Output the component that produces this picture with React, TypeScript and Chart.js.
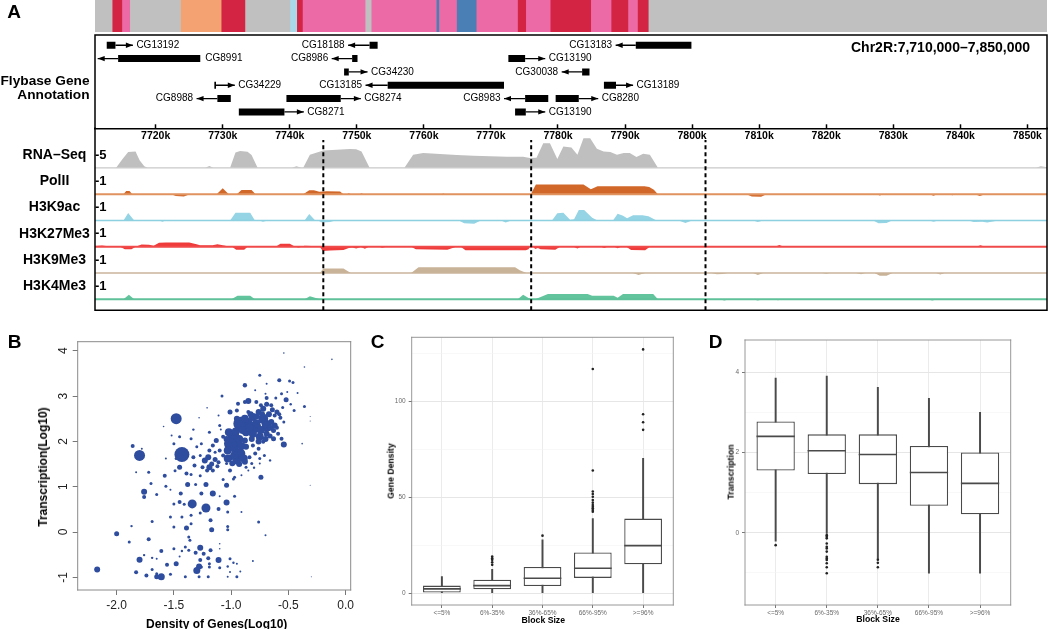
import React, { useEffect, useRef } from 'react';
import { Chart, registerables } from 'chart.js';

Chart.register(...registerables);
const FONT = '"Liberation Sans", Arial, Helvetica, sans-serif';
Chart.defaults.font.family = FONT;
Chart.defaults.color = '#000';

// ================= Panel A data =================
const regionMin = 7710.95; // kb
const regionMax = 7852.93; // kb
const regionTitle = 'Chr2R:7,710,000\u20137,850,000';
const genomeTicks = [7720, 7730, 7740, 7750, 7760, 7770, 7780, 7790, 7800, 7810, 7820, 7830, 7840, 7850];

// chromatin-state band (kb)
const bandStarts = [7710.95, 7713.6, 7715.06, 7716.23, 7723.8, 7729.86, 7733.41, 7740.12, 7741.13, 7741.98, 7751.33, 7752.24, 7761.94, 7762.34, 7764.97, 7767.9, 7774.06, 7775.29, 7778.93, 7784.98, 7788.01, 7790.53, 7791.95, 7793.56];
const bandEnds = [7713.6, 7715.06, 7716.23, 7723.8, 7729.86, 7733.41, 7740.12, 7741.13, 7741.98, 7751.33, 7752.24, 7761.94, 7762.34, 7764.97, 7767.9, 7774.06, 7775.29, 7778.93, 7784.98, 7788.01, 7790.53, 7791.95, 7793.56, 7852.93];
const GRAY = '#c0c0c0', RED = '#d42443', PINK = '#ec6aa6', SALMON = '#f5a272', LBLUE = '#a9d9e8', SBLUE = '#4a7fb6';
const bandColors = [GRAY, RED, PINK, GRAY, SALMON, RED, GRAY, LBLUE, RED, PINK, GRAY, PINK, SBLUE, PINK, SBLUE, PINK, RED, PINK, RED, PINK, RED, PINK, RED, GRAY];

// gene models (kb)
const geneNames = ['CG13192', 'CG18188', 'CG13183', 'CG8991', 'CG8986', 'CG13190', 'CG34230', 'CG30038', 'CG34229', 'CG13185', 'CG13189', 'CG8988', 'CG8274', 'CG8983', 'CG8280', 'CG8271', 'CG13190'];
const geneRows = [1, 1, 1, 2, 2, 2, 3, 3, 4, 4, 4, 5, 5, 5, 5, 6, 6];
const geneStarts = [7712.7, 7751.9, 7791.6, 7714.4, 7749.3, 7772.6, 7748.1, 7783.6, 7728.75, 7754.6, 7786.85, 7729.2, 7739.5, 7775.1, 7779.65, 7732.4, 7773.6];
const geneEnds = [7714.0, 7753.1, 7799.9, 7726.65, 7750.1, 7775.1, 7748.8, 7784.7, 7729.0, 7771.95, 7788.65, 7731.2, 7747.6, 7778.55, 7783.1, 7739.2, 7775.2];
const geneTips = [7716.6, 7748.7, 7788.6, 7711.35, 7746.25, 7778.1, 7751.6, 7780.55, 7731.8, 7751.3, 7791.2, 7726.1, 7750.6, 7771.95, 7786.0, 7742.1, 7778.1];

// signal tracks: [position kb, signal]
const trackNames = ['RNA\u2013Seq', 'PolII', 'H3K9ac', 'H3K27Me3', 'H3K9Me3', 'H3K4Me3'];
const trackTickValues = [5, 1, 1, 1, 1, 1];
const trackFillColors = ['#bfbfbf', '#d2672a', '#94d4e4', '#f03b3b', '#c9b398', '#62c49c'];
const trackLineColors = ['#c9c9c9', '#e0925f', '#8dd0e0', '#f04a4a', '#c8b39a', '#5fc199'];
const trackLineWidths = [1.2, 2, 1.5, 2, 1.6, 2];

const rnaSignal = [[7710.95, 0], [7714.1, 0], [7715.0, 3.2], [7715.9, 6.2], [7717.0, 6.4], [7717.6, 3.0], [7718.3, 0.6], [7718.8, 0], [7727.4, 0], [7728.0, 0.7], [7728.6, 0], [7731.1, 0], [7731.9, 6.0], [7732.6, 6.5], [7733.7, 6.3], [7734.3, 5.0], [7735.2, 0], [7740.3, 0], [7741.0, 0.6], [7741.7, 0], [7742.0, 0], [7743.0, 5.1], [7745.0, 6.7], [7749.0, 7.3], [7749.9, 7.2], [7750.7, 6.4], [7751.9, 0], [7757.1, 0], [7758.4, 5.1], [7759.9, 5.8], [7762.4, 5.4], [7764.9, 5.0], [7767.4, 4.7], [7769.9, 4.5], [7772.4, 4.3], [7774.8, 4.3], [7775.8, 3.85], [7776.8, 3.9], [7777.8, 9.6], [7778.8, 9.6], [7779.9, 3.4], [7780.8, 8.3], [7782.0, 7.9], [7782.9, 5.1], [7783.8, 11.5], [7784.8, 11.5], [7785.8, 7.4], [7786.8, 6.4], [7787.8, 6.2], [7788.8, 5.1], [7789.8, 5.8], [7790.7, 5.8], [7791.7, 4.2], [7792.7, 5.5], [7793.7, 5.1], [7794.9, 0], [7851.3, 0], [7852.0, 0.6], [7852.93, 0.2]];
const pol2Signal = [[7710.95, -0.06], [7711.8, 0], [7715.2, 0], [7715.6, 0.25], [7716.1, 0.25], [7716.5, 0], [7722.3, 0], [7723.0, -0.15], [7724.2, -0.18], [7725.1, 0], [7729.1, 0], [7730.0, 0.46], [7730.9, 0], [7732.1, 0], [7732.8, 0.33], [7734.3, 0.33], [7734.9, 0], [7742.0, 0], [7742.9, 0.3], [7743.6, 0.3], [7744.4, 0.18], [7745.5, 0.22], [7747.5, 0.2], [7748.0, 0], [7748.5, 0], [7748.8, 0.08], [7749.1, 0], [7750.4, 0], [7750.7, 0.08], [7751.0, 0], [7762.6, 0], [7762.9, 0.06], [7763.2, 0], [7775.95, 0], [7776.7, 0.75], [7783.8, 0.75], [7784.9, 0.38], [7785.9, 0.62], [7792.9, 0.62], [7793.6, 0.55], [7794.3, 0.35], [7794.9, 0], [7808.1, 0], [7808.9, -0.18], [7810.3, -0.2], [7811.1, 0], [7827.5, 0], [7828.0, -0.1], [7828.5, 0], [7835.4, 0], [7836.0, -0.12], [7836.6, 0], [7838.3, 0], [7838.8, -0.08], [7839.4, 0], [7842.2, 0], [7842.9, -0.15], [7843.7, 0], [7852.93, 0]];
const h3k9acSignal = [[7710.95, 0], [7715.2, 0], [7715.9, 0.57], [7716.8, 0], [7720.5, 0], [7721.0, -0.1], [7721.5, 0], [7731.1, 0], [7731.9, 0.6], [7734.1, 0.6], [7734.8, 0], [7735.4, 0], [7736.0, -0.1], [7736.7, 0], [7742.2, 0], [7742.9, 0.5], [7743.8, 0], [7744.2, 0], [7744.8, -0.15], [7746.0, -0.12], [7746.8, 0], [7765.2, 0], [7766.0, -0.22], [7767.5, -0.25], [7768.5, 0], [7771.5, 0], [7772.2, -0.15], [7773.0, 0], [7779.1, 0], [7779.9, 0.55], [7780.8, 0.6], [7781.8, 0.05], [7782.4, 0.1], [7783.1, 0.82], [7783.9, 0.82], [7785.1, 0.2], [7785.9, 0], [7788.2, 0], [7788.9, 0.52], [7789.7, 0.36], [7790.3, 0.18], [7791.2, 0.4], [7792.6, 0.4], [7793.5, 0.33], [7794.7, 0], [7798.0, 0], [7799.0, -0.2], [7800.0, 0], [7809.1, 0], [7809.8, -0.12], [7810.6, 0], [7827.0, 0], [7827.8, -0.22], [7829.0, -0.2], [7829.8, 0], [7835.4, 0], [7836.0, -0.1], [7836.7, 0], [7841.2, 0], [7842.0, -0.12], [7843.3, -0.1], [7844.0, -0.15], [7845.7, 0], [7852.93, 0]];
const h3k27me3Signal = [[7710.95, 0.05], [7712.0, 0.1], [7713.5, 0], [7714.7, 0], [7715.4, -0.2], [7716.4, -0.2], [7717.0, 0], [7717.9, 0.17], [7719.0, 0.15], [7719.7, 0.08], [7720.5, 0.3], [7721.5, 0.33], [7725.0, 0.33], [7726.1, 0.2], [7726.6, 0.12], [7728.5, 0.12], [7729.2, 0.2], [7730.2, 0.1], [7731.1, 0], [7731.4, 0], [7732.0, -0.23], [7733.2, -0.23], [7733.7, 0], [7735.0, 0.04], [7737.0, 0.03], [7737.9, 0], [7738.6, 0.23], [7740.0, 0.23], [7740.8, 0], [7741.3, -0.05], [7741.8, 0], [7742.2, 0.08], [7743.2, 0.05], [7744.3, 0], [7744.5, 0], [7744.9, -0.33], [7746.0, -0.3], [7748.0, -0.26], [7748.8, -0.1], [7749.3, -0.05], [7749.9, -0.13], [7750.6, -0.02], [7751.2, -0.15], [7751.8, 0], [7753.3, 0], [7753.8, -0.08], [7754.4, 0], [7758.1, 0], [7758.8, -0.2], [7763.5, -0.23], [7764.5, -0.05], [7765.0, 0.05], [7765.5, 0], [7766.2, -0.28], [7775.2, -0.28], [7775.6, -0.2], [7775.9, 0.05], [7776.3, 0], [7776.6, -0.18], [7777.0, -0.1], [7777.4, -0.2], [7779.6, -0.23], [7780.3, 0], [7782.3, 0], [7782.9, -0.13], [7783.4, 0], [7786.4, 0], [7786.9, -0.1], [7787.4, 0], [7788.4, 0], [7788.9, -0.12], [7789.4, 0], [7790.2, 0], [7790.9, -0.25], [7793.0, -0.28], [7793.7, 0], [7812.4, 0], [7813.0, 0.13], [7813.7, 0], [7842.4, 0], [7843.0, 0.12], [7843.7, 0], [7852.93, 0]];
const h3k9me3Signal = [[7710.95, 0], [7744.5, 0], [7745.0, 0.36], [7748.0, 0.36], [7749.1, 0], [7758.1, 0], [7759.2, 0.44], [7773.6, 0.44], [7774.3, 0.22], [7775.3, 0], [7791.2, 0], [7792.0, -0.15], [7793.0, 0], [7802.9, 0], [7803.7, -0.1], [7804.5, -0.08], [7805.3, 0], [7809.1, 0], [7809.8, -0.15], [7810.6, 0], [7819.5, 0], [7820.0, -0.05], [7820.5, 0], [7824.5, 0], [7825.2, -0.1], [7825.8, 0], [7827.2, 0], [7828.0, -0.22], [7829.0, -0.22], [7829.9, 0], [7836.4, 0], [7837.0, -0.12], [7837.7, 0], [7852.93, 0]];
const h3k4me3Signal = [[7710.95, 0], [7715.2, 0], [7716.0, 0.36], [7716.8, 0], [7723.5, 0], [7724.0, -0.05], [7724.6, 0], [7731.3, 0], [7732.2, 0.28], [7734.1, 0.28], [7734.8, 0], [7742.2, 0], [7743.0, 0.23], [7744.5, 0], [7774.0, 0], [7774.8, 0.36], [7775.6, 0.1], [7776.1, 0], [7776.6, 0], [7778.5, 0.41], [7784.4, 0.41], [7785.1, 0.27], [7788.3, 0.28], [7788.9, 0.12], [7789.7, 0.41], [7794.2, 0.41], [7794.9, 0], [7804.1, 0], [7804.8, -0.1], [7805.6, 0], [7809.1, 0], [7809.8, -0.1], [7810.6, 0], [7812.1, 0], [7812.8, -0.08], [7813.6, 0], [7835.1, 0], [7835.8, -0.1], [7836.6, 0], [7852.93, 0]];
const trackSignals = [rnaSignal, pol2Signal, h3k9acSignal, h3k27me3Signal, h3k9me3Signal, h3k4me3Signal];
const domainBoundaries = [7745, 7776, 7802];

// ================= Panel B data: [log10 gene density, log10 transcription, marker radius] =================
const bPoints = [
  [-0.54, 3.95, 0.8], [-0.12, 3.81, 0.8], [-0.36, 3.64, 0.8], [-0.75, 3.46, 1.5], [-0.88, 3.24, 2.2], [-0.58, 3.35, 2], [-0.49, 3.33, 1.5], [-0.46, 3.3, 1.5], [-0.69, 3.27, 1], [-0.79, 3.13, 1], [-0.7, 3.05, 1], [-1.08, 3.0, 1.5], [-0.56, 3.05, 1.5], [-0.51, 3.09, 1], [-0.42, 3.07, 1], [-0.85, 2.89, 3], [-0.78, 2.87, 2], [-0.69, 2.96, 2], [-0.61, 2.96, 1.5], [-0.52, 2.92, 2.5], [-0.36, 2.77, 1.5], [-0.48, 2.82, 1.2], [-0.45, 2.68, 1.5], [-1.21, 2.74, 0.8], [-1.11, 2.57, 1], [-1.28, 2.52, 0.8], [-1.48, 2.5, 5.5], [-1.59, 2.33, 0.8], [-1.33, 2.26, 1.2], [-1.19, 2.2, 1.5], [-1.1, 2.35, 1.5], [-1.09, 2.26, 1], [-0.31, 2.55, 0.5], [-0.31, 2.45, 0.5], [-0.38, 1.95, 0.8], [-0.31, 1.03, 0.5], [-0.3, -0.99, 0.5],
  [-0.94, 2.83, 2], [-0.88, 2.87, 2], [-1.01, 2.65, 2.5], [-0.95, 2.68, 2], [-0.85, 2.65, 2], [-0.81, 2.54, 4], [-0.76, 2.65, 3], [-0.72, 2.72, 3], [-0.69, 2.82, 2.5], [-0.92, 2.39, 7], [-0.85, 2.43, 4], [-0.79, 2.32, 6], [-0.72, 2.5, 5], [-0.69, 2.32, 5], [-0.65, 2.43, 3], [-0.62, 2.57, 2], [-0.57, 2.52, 2], [-0.54, 2.43, 1.5], [-0.87, 2.2, 4], [-0.81, 2.17, 4], [-0.75, 2.1, 4], [-0.69, 2.17, 3], [-0.63, 2.24, 2.5], [-0.59, 2.17, 2], [-0.56, 2.06, 2], [-0.63, 2.06, 2.5], [-0.54, 1.93, 3], [-0.98, 2.1, 6], [-1.01, 1.95, 6], [-0.95, 1.95, 5], [-1.03, 1.8, 4], [-0.97, 1.84, 4], [-0.92, 1.73, 5], [-0.89, 1.62, 4], [-0.95, 1.58, 4], [-1.0, 1.65, 3], [-0.87, 1.88, 3], [-0.81, 1.91, 2], [-0.76, 1.84, 2], [-0.72, 1.99, 2], [-0.79, 1.73, 2], [-0.84, 1.65, 2], [-0.75, 1.62, 1.5], [-0.71, 1.69, 1.5], [-0.82, 1.51, 1.5], [-0.87, 1.43, 1.5], [-0.8, 1.42, 1.2], [-0.75, 1.51, 1], [-0.66, 1.58, 1.2], [-1.07, 1.69, 2], [-1.1, 1.8, 2], [-1.13, 2.02, 2.5], [-1.16, 1.91, 2], [-1.07, 2.1, 2], [-1.11, 1.54, 2], [-1.04, 1.51, 1.5], [-1.01, 1.36, 2], [-0.97, 1.21, 1.5], [-0.98, 1.17, 1.5], [-0.85, 1.36, 1], [-0.91, 1.25, 1], [-0.74, 1.21, 2.5], [-1.23, 1.58, 3], [-1.2, 1.65, 3], [-1.19, 1.43, 3], [-1.21, 1.36, 2], [-1.16, 1.36, 2], [-1.25, 1.43, 2], [-1.32, 1.47, 2], [-1.33, 1.65, 2], [-1.27, 1.69, 1.5], [-1.3, 1.88, 1.5], [-1.26, 1.95, 1.5], [-1.19, 1.8, 2], [-1.14, 1.76, 1.5],
  [-1.02, 2.2, 4], [-0.96, 2.22, 4], [-0.9, 2.25, 4], [-1.03, 1.62, 4], [-0.97, 1.7, 4], [-0.91, 1.9, 4], [-0.93, 2.05, 4], [-0.88, 2.02, 3], [-1.04, 2.05, 3], [-0.99, 1.52, 3], [-0.93, 1.5, 3], [-0.88, 1.55, 3], [-0.84, 2.3, 4], [-0.78, 2.4, 4], [-0.74, 2.25, 4], [-0.7, 2.4, 4], [-0.66, 2.3, 3], [-0.62, 2.35, 3], [-0.67, 2.6, 3], [-0.73, 2.6, 3], [-0.78, 2.55, 3], [-0.83, 2.6, 3], [-0.88, 2.5, 4], [-0.95, 2.5, 3], [-0.6, 2.65, 2.5], [-0.64, 2.7, 2.5], [-0.76, 2.0, 3], [-0.7, 2.05, 3], [-0.82, 2.05, 3], [-0.66, 2.12, 2.5], [-0.6, 2.3, 2], [-0.58, 2.6, 2], [-0.55, 2.75, 1.5], [-0.65, 2.8, 2], [-0.74, 2.8, 2], [-1.14, 1.6, 2.5], [-1.17, 1.5, 2.5], [-1.12, 1.45, 2],
  [-1.8, 1.69, 5.5], [-1.86, 1.9, 2], [-1.78, 1.84, 1], [-1.43, 1.71, 7.5], [-1.45, 1.43, 2.5], [-1.48, 1.62, 1.5], [-1.57, 1.62, 1], [-1.5, 1.95, 1.5], [-1.45, 2.1, 1.5], [-1.52, 2.13, 1], [-1.35, 2.06, 1.5], [-1.58, 1.24, 2], [-1.49, 1.35, 1.5], [-1.39, 1.29, 2], [-1.72, 1.32, 1.5], [-1.83, 1.32, 1], [-1.7, 1.07, 1.5], [-1.57, 1.01, 1.5], [-1.53, 0.93, 1], [-1.76, 0.89, 3], [-1.76, 0.77, 2], [-1.65, 0.83, 1.5], [-1.44, 0.85, 2], [-1.38, 1.05, 2.5], [-1.31, 1.05, 1.5], [-1.35, 1.27, 1.5], [-1.27, 1.24, 1.5], [-1.22, 1.05, 2.5], [-1.26, 0.85, 2], [-1.16, 0.85, 3], [-1.1, 0.79, 1], [-1.04, 1.03, 2.5], [-1.07, 1.16, 1.5], [-0.97, 0.79, 1.5], [-1.04, 0.65, 3], [-1.11, 0.51, 2], [-1.34, 0.62, 4.5], [-1.22, 0.53, 4.5], [-1.45, 0.66, 2], [-1.5, 0.62, 1.5], [-1.41, 0.61, 1.5], [-1.27, 0.42, 1.5], [-1.35, 0.37, 1.5], [-1.43, 0.33, 1.5], [-1.53, 0.33, 1.5], [-1.18, 0.26, 2], [-1.03, 0.44, 1.5], [-0.91, 0.44, 1], [-0.76, 0.22, 1.5], [-1.03, 0.12, 1.5], [-1.35, 0.18, 1.5], [-1.39, 0.09, 2.5], [-1.5, 0.11, 1.5], [-1.69, 0.23, 1.5], [-1.87, 0.13, 1.2], [-1.17, 0.05, 2.5], [-1.03, 0.05, 1.5], [-0.7, -0.07, 1], [-2.0, -0.04, 2.5], [-1.89, -0.22, 1.5], [-1.72, -0.16, 2], [-1.37, -0.11, 1.5], [-1.36, -0.18, 1.5], [-1.4, -0.33, 1.5], [-1.37, -0.4, 1.5], [-1.43, -0.42, 1.2], [-1.27, -0.35, 3], [-1.18, -0.4, 2], [-1.1, -0.26, 0.8], [-1.1, -0.37, 0.8], [-1.61, -0.42, 2], [-1.5, -0.37, 1.5], [-1.45, -0.54, 1], [-1.65, -0.59, 1], [-1.8, -0.61, 3], [-1.76, -0.51, 1.2], [-1.69, -0.57, 1.2], [-1.31, -0.46, 2], [-1.24, -0.48, 2], [-1.2, -0.58, 2], [-1.27, -0.62, 2], [-1.11, -0.62, 3], [-1.01, -0.59, 1.5], [-0.98, -0.68, 1.2], [-1.03, -0.76, 1.2], [-0.95, -0.7, 1], [-0.92, -0.87, 1], [-0.81, -0.64, 1], [-1.1, -0.79, 1.5], [-1.19, -0.7, 1.5], [-1.26, -0.77, 1.5], [-1.28, -0.76, 3], [-1.3, -0.85, 3.5], [-1.19, -0.77, 1.5], [-1.56, -0.72, 2], [-1.48, -0.7, 2.5], [-1.69, -0.83, 1.5], [-1.83, -0.89, 2], [-2.17, -0.83, 3], [-1.74, -0.96, 2], [-1.65, -0.92, 1.5], [-1.53, -0.93, 1.5], [-1.65, -0.99, 2.5], [-1.61, -0.99, 3.5], [-1.4, -0.99, 1.5], [-1.28, -0.99, 1.5], [-1.2, -0.99, 1.5], [-1.03, -0.99, 1], [-0.95, -0.99, 1.5], [-1.01, -0.88, 1],
];
const bXTicks = [-2.0, -1.5, -1.0, -0.5, 0.0];
const bYTicks = [-1, 0, 1, 2, 3, 4];

// ================= Panels C & D data (box plots by block size) =================
const blockLabels = ['<=5%', '6%-35%', '36%-65%', '66%-95%', '>=96%'];
const cLow = [0, 0, 0, 0, 0];
const cQ1 = [0.35, 2.1, 3.8, 8, 15.1];
const cMedian = [2.3, 4, 7.8, 13, 24.8];
const cQ3 = [4, 7.1, 13.7, 21.2, 38.9];
const cHigh = [8.7, 12.5, 27.8, 38.9, 70.3];
const cOutlierGroup = [2, 2, 2, 2, 2, 3, 4, 4, 4, 4, 4, 4, 4, 4, 4, 4, 4, 4, 5, 5, 5, 5];
const cOutlierValue = [14.8, 16.1, 17.4, 18.2, 19.1, 30, 42.5, 43.4, 44.3, 45.1, 46, 47.2, 48.6, 50.3, 51.7, 53, 63.9, 116.8, 85.1, 89.1, 93.2, 127];
const cYMajor = [0, 50, 100];
const cYMinor = [25, 75, 125];

const dLow = [-0.21, -0.02, -0.64, -1.01, -1.01];
const dQ1 = [1.55, 1.46, 1.21, 0.67, 0.46];
const dMedian = [2.4, 2.04, 1.95, 1.5, 1.23];
const dQ3 = [2.77, 2.45, 2.45, 2.16, 2.0];
const dHigh = [3.85, 3.9, 3.62, 3.35, 3.0];
const dOutlierGroup = [1, 2, 2, 2, 2, 2, 2, 2, 2, 2, 2, 2, 2, 2, 3, 3, 3];
const dOutlierValue = [-0.31, -0.06, -0.1, -0.14, -0.27, -0.35, -0.39, -0.47, -0.6, -0.64, -0.68, -0.76, -0.86, -1.01, -0.67, -0.75, -0.86];
const dYMajor = [0, 2, 4];
const dYMinor = [-1, 1, 3];

// ================= layout constants =================
const TRACK_AREA = 6.919;   // y-units of the track panel (1 unit = one track row)
const BASE_OFFSET = 0.414;  // baseline height inside a row
const TICK_UNITS = 0.49;    // height of the labelled tick above baseline
const DASH_TOP = 6.478;
const trackBase = (i: number) => trackNames.length - 1 - i + BASE_OFFSET;

const common: any = {
  animation: false,
  responsive: false,
  devicePixelRatio: 1,
  events: [],
  plugins: { legend: { display: false }, tooltip: { enabled: false } },
};

function framePlugin(sides: string, color: string, width: number) {
  return {
    id: 'frame_' + sides,
    afterDraw(chart: any) {
      const { ctx, chartArea: a } = chart;
      ctx.save();
      ctx.strokeStyle = color;
      ctx.lineWidth = width;
      ctx.lineCap = 'square';
      ctx.beginPath();
      if (sides.includes('t')) { ctx.moveTo(a.left, a.top); ctx.lineTo(a.right, a.top); }
      if (sides.includes('b')) { ctx.moveTo(a.left, a.bottom); ctx.lineTo(a.right, a.bottom); }
      if (sides.includes('l')) { ctx.moveTo(a.left, a.top); ctx.lineTo(a.left, a.bottom); }
      if (sides.includes('r')) { ctx.moveTo(a.right, a.top); ctx.lineTo(a.right, a.bottom); }
      ctx.stroke();
      ctx.restore();
    },
  };
}

function bandConfig(): any {
  return {
    type: 'bar',
    data: {
      labels: ['state'],
      datasets: [{
        data: bandStarts.map((s, i) => ({ x: [s, bandEnds[i]], y: 'state' })),
        backgroundColor: bandColors,
        borderWidth: 0,
        barPercentage: 1,
        categoryPercentage: 1,
      }],
    },
    options: {
      ...common,
      indexAxis: 'y',
      layout: { padding: { left: 95, right: 3, top: 0, bottom: 1 } },
      scales: {
        x: { type: 'linear', min: regionMin, max: regionMax, display: false },
        y: { type: 'category', display: false },
      },
    },
  };
}

function geneConfig(): any {
  const boxes: any[] = [];
  const shafts: any[] = [];
  geneNames.forEach((_, i) => {
    const r = geneRows[i];
    boxes.push({ x: geneStarts[i], y: r }, { x: geneEnds[i], y: r }, { x: geneEnds[i], y: null });
    const from = geneTips[i] > geneEnds[i] ? geneEnds[i] : geneStarts[i];
    shafts.push({ x: from, y: r }, { x: geneTips[i], y: r }, { x: geneTips[i], y: null });
  });
  const decor = {
    id: 'geneDecor',
    afterDatasetsDraw(chart: any) {
      const { ctx, chartArea: a, scales: { x, y } } = chart;
      ctx.save();
      ctx.fillStyle = '#000';
      ctx.font = `10px ${FONT}`;
      ctx.textBaseline = 'middle';
      geneNames.forEach((name, i) => {
        const py = y.getPixelForValue(geneRows[i]);
        const tip = x.getPixelForValue(geneTips[i]);
        const dir = geneTips[i] > geneEnds[i] ? 1 : -1;
        ctx.beginPath();
        ctx.moveTo(tip, py);
        ctx.lineTo(tip - dir * 7, py - 2.7);
        ctx.lineTo(tip - dir * 7, py + 2.7);
        ctx.closePath();
        ctx.fill();
        const w = ctx.measureText(name).width;
        if (dir > 0) {
          ctx.textAlign = 'left';
          ctx.fillText(name, tip + 3.5, py);
        } else if (tip - 3.5 - w > a.left) {
          ctx.textAlign = 'right';
          ctx.fillText(name, tip - 3.5, py);
        } else {
          ctx.textAlign = 'left';
          ctx.fillText(name, x.getPixelForValue(geneEnds[i]) + 5, py);
        }
      });
      ctx.font = `bold 14px ${FONT}`;
      ctx.textAlign = 'right';
      ctx.fillText(regionTitle, a.right - 17, a.top + 13.5);
      ctx.font = `bold 13.7px ${FONT}`;
      ctx.fillText('Flybase Gene', a.left - 5.5, a.top + 46);
      ctx.fillText('Annotation', a.left - 5.5, a.top + 60.5);
      ctx.restore();
    },
  };
  return {
    type: 'line',
    data: {
      datasets: [
        { data: shafts, borderColor: '#000', borderWidth: 1.4, pointRadius: 0, spanGaps: false, order: 1 },
        { data: boxes, borderColor: '#000', borderWidth: 7, borderCapStyle: 'butt', pointRadius: 0, spanGaps: false, order: 0 },
      ],
    },
    options: {
      ...common,
      layout: { padding: { left: 95, right: 3, top: 2, bottom: 0.7 } },
      scales: {
        x: { type: 'linear', min: regionMin, max: regionMax, display: false },
        y: { type: 'linear', min: 0.23, max: 7.23, reverse: true, display: false },
      },
    },
    plugins: [decor, framePlugin('tlr', '#000', 1.5)],
  };
}

function tracksConfig(): any {
  const datasets: any[] = [];
  trackSignals.forEach((sig, i) => {
    const base = trackBase(i);
    const k = TICK_UNITS / trackTickValues[i];
    datasets.push({
      data: sig.map(([p, v]) => ({ x: p, y: base + v * k })),
      fill: { value: base },
      backgroundColor: trackFillColors[i],
      borderColor: 'rgba(0,0,0,0)',
      borderWidth: 0,
      pointRadius: 0,
      tension: 0,
      order: 3,
    });
    datasets.push({
      data: [{ x: regionMin, y: base }, { x: regionMax, y: base }],
      borderColor: trackLineColors[i],
      borderWidth: trackLineWidths[i],
      pointRadius: 0,
      fill: false,
      order: 2,
    });
  });
  domainBoundaries.forEach((b) => {
    datasets.push({
      data: [{ x: b, y: 0 }, { x: b, y: DASH_TOP }],
      borderColor: '#000',
      borderWidth: 2,
      borderDash: [4, 3],
      pointRadius: 0,
      fill: false,
      order: 0,
    });
  });
  const decor = {
    id: 'trackDecor',
    afterDraw(chart: any) {
      const { ctx, scales: { y } } = chart;
      ctx.save();
      ctx.fillStyle = '#000';
      ctx.font = `bold 14px ${FONT}`;
      ctx.textAlign = 'center';
      ctx.textBaseline = 'middle';
      trackNames.forEach((n, i) => ctx.fillText(n, 54.5, y.getPixelForValue(trackBase(i) + TICK_UNITS)));
      ctx.restore();
    },
  };
  return {
    type: 'line',
    data: { datasets },
    options: {
      ...common,
      layout: { padding: { left: 95, right: 3, top: 0.3, bottom: 6 } },
      scales: {
        x: {
          type: 'linear', position: 'top', min: regionMin, max: regionMax,
          afterBuildTicks: (s: any) => { s.ticks = genomeTicks.map((v) => ({ value: v })); },
          afterFit: (s: any) => { s.height = 10; },
          ticks: { mirror: true, padding: 1.5, autoSkip: false, maxRotation: 0, color: '#000', font: { size: 10.5, weight: 'bold' }, callback: (v: any) => `${v}k` },
          grid: { drawOnChartArea: false, drawTicks: true, tickLength: 4, tickColor: '#000', tickWidth: 1.5, color: '#000' },
          border: { display: true, color: '#000', width: 1.5 },
        },
        y: {
          type: 'linear', position: 'left', min: 0, max: TRACK_AREA,
          afterBuildTicks: (s: any) => { s.ticks = trackNames.map((_, i) => ({ value: trackBase(i) + TICK_UNITS })); },
          afterFit: (s: any) => { s.width = 0; },
          ticks: {
            mirror: true, padding: 0, autoSkip: false, color: '#000', font: { size: 13, weight: 'bold' },
            callback: (v: any) => {
              const i = trackNames.findIndex((_, j) => Math.abs(trackBase(j) + TICK_UNITS - v) < 1e-6);
              return i >= 0 ? `-${trackTickValues[i]}` : '';
            },
          },
          grid: { display: false, drawTicks: false },
          border: { display: false },
        },
      },
    },
    plugins: [decor, framePlugin('lrb', '#000', 1.5)],
  };
}

function scatterConfig(): any {
  const yLabels = {
    id: 'bYLabels',
    afterDraw(chart: any) {
      const { ctx, chartArea: a, scales: { y } } = chart;
      ctx.save();
      ctx.font = `12px ${FONT}`;
      ctx.fillStyle = '#222';
      ctx.textAlign = 'center';
      ctx.textBaseline = 'middle';
      bYTicks.forEach((v) => {
        ctx.save();
        ctx.translate(a.left - 14.4, y.getPixelForValue(v));
        ctx.rotate(-Math.PI / 2);
        ctx.fillText(String(v), 0, 0);
        ctx.restore();
      });
      ctx.restore();
    },
  };
  return {
    type: 'bubble',
    data: {
      datasets: [{
        data: bPoints.map(([x, y, r]) => ({ x, y, r })),
        backgroundColor: '#2f4d9e',
        borderWidth: 0,
      }],
    },
    options: {
      ...common,
      layout: { padding: { left: 0, right: 19.3, top: 11.7, bottom: 0 } },
      scales: {
        x: {
          type: 'linear', min: -2.34, max: 0.044,
          afterBuildTicks: (s: any) => { s.ticks = bXTicks.map((v) => ({ value: v })); },
          afterFit: (s: any) => { s.height = 39; },
          ticks: { padding: 3, color: '#222', font: { size: 12 }, maxRotation: 0, autoSkip: false, callback: (v: any) => Number(v).toFixed(1) },
          grid: { drawOnChartArea: false, tickLength: 5, tickColor: '#777', tickWidth: 1 },
          border: { display: false },
        },
        y: {
          type: 'linear', min: -1.28, max: 4.2,
          afterBuildTicks: (s: any) => { s.ticks = bYTicks.map((v) => ({ value: v })); },
          afterFit: (s: any) => { s.width = 77.7; },
          ticks: { display: false },
          grid: { drawOnChartArea: false, tickLength: 5, tickColor: '#777', tickWidth: 1 },
          border: { display: false },
        },
      },
    },
    plugins: [yLabels, framePlugin('tlrb', '#8a8a8a', 1)],
  };
}

function boxConfig(p: any): any {
  const cats = blockLabels.map((_, i) => i + 1);
  const yAll = [...p.major, ...p.minor].sort((a: number, b: number) => a - b);
  const isMajor = (v: number) => p.major.some((m: number) => Math.abs(m - v) < 1e-9);
  const LINE = '#4a4a4a';
  return {
    type: 'bar',
    data: {
      datasets: [
        { type: 'bar', data: cats.map((c, i) => ({ x: c, y: [p.low[i], p.high[i]] })), backgroundColor: LINE, barThickness: 1.3, grouped: false, order: 3 },
        { type: 'bar', data: cats.map((c, i) => ({ x: c, y: [p.q1[i], p.q3[i]] })), backgroundColor: '#ffffff', borderColor: LINE, borderWidth: 1.3, borderSkipped: false, barPercentage: 0.75, categoryPercentage: 1, grouped: false, order: 2 },
        {
          type: 'scatter', data: cats.map((c, i) => ({ x: c, y: p.median[i] })), pointStyle: 'line', borderColor: LINE, borderWidth: 1.6, order: 1,
          radius: (ctx: any) => { const s = ctx.chart.scales.x; return Math.abs(s.getPixelForValue(1.375) - s.getPixelForValue(1)); },
        },
        { type: 'scatter', data: p.outGroup.map((g: number, i: number) => ({ x: g, y: p.outValue[i] })), pointRadius: 1.3, backgroundColor: '#222', borderWidth: 0, order: 0 },
      ],
    },
    options: {
      ...common,
      layout: { padding: p.padding },
      scales: {
        x: {
          type: 'linear', min: 0.4, max: 5.6, offset: false,
          afterBuildTicks: (s: any) => { s.ticks = cats.map((v) => ({ value: v })); },
          afterFit: (s: any) => { s.height = p.xAxisH; },
          ticks: { padding: 1, color: '#6a6a6a', font: { size: 6.5 }, maxRotation: 0, autoSkip: false, callback: (v: any) => blockLabels[Math.round(v) - 1] ?? '' },
          grid: { offset: false, color: '#ebebeb', lineWidth: 1, tickLength: 3, tickColor: '#777' },
          border: { display: false },
        },
        y: {
          type: 'linear', min: p.yMin, max: p.yMax,
          afterBuildTicks: (s: any) => { s.ticks = yAll.map((v: number) => ({ value: v })); },
          afterFit: (s: any) => { s.width = p.yAxisW; },
          ticks: { padding: 3, color: '#6a6a6a', font: { size: 6.5 }, autoSkip: false, callback: (v: any) => (isMajor(v) ? String(v) : '') },
          grid: {
            color: (ctx: any) => (ctx.tick && isMajor(ctx.tick.value) ? '#e6e6e6' : '#f3f3f3'),
            lineWidth: (ctx: any) => (ctx.tick && isMajor(ctx.tick.value) ? 1 : 0.6),
            tickLength: 3,
            tickColor: (ctx: any) => (ctx.tick && isMajor(ctx.tick.value) ? '#777' : 'rgba(0,0,0,0)'),
          },
          border: { display: false },
        },
      },
    },
    plugins: [framePlugin('tlrb', '#8c8c8c', 0.9)],
  };
}

const textStyle = (left: number, top: number, size: number, rotate = false): React.CSSProperties => ({
  position: 'absolute', left, top, fontSize: size, fontWeight: 'bold', fontFamily: FONT, lineHeight: 1,
  whiteSpace: 'nowrap', color: '#000',
  transform: rotate ? 'translate(-50%, -50%) rotate(-90deg)' : 'translate(-50%, -50%)',
});

export default function App() {
  const bandRef = useRef<HTMLCanvasElement>(null);
  const geneRef = useRef<HTMLCanvasElement>(null);
  const trackRef = useRef<HTMLCanvasElement>(null);
  const bRef = useRef<HTMLCanvasElement>(null);
  const cRef = useRef<HTMLCanvasElement>(null);
  const dRef = useRef<HTMLCanvasElement>(null);

  useEffect(() => {
    const charts = [
      new Chart(bandRef.current as any, bandConfig()),
      new Chart(geneRef.current as any, geneConfig()),
      new Chart(trackRef.current as any, tracksConfig()),
      new Chart(bRef.current as any, scatterConfig()),
      new Chart(cRef.current as any, boxConfig({
        low: cLow, q1: cQ1, median: cMedian, q3: cQ3, high: cHigh, outGroup: cOutlierGroup, outValue: cOutlierValue,
        yMin: -6.1, yMax: 133.3, major: cYMajor, minor: cYMinor,
        padding: { left: 0, right: 26.7, top: 7.3, bottom: 0 }, xAxisH: 24, yAxisW: 41.7,
      })),
      new Chart(dRef.current as any, boxConfig({
        low: dLow, q1: dQ1, median: dMedian, q3: dQ3, high: dHigh, outGroup: dOutlierGroup, outValue: dOutlierValue,
        yMin: -1.8, yMax: 4.8, major: dYMajor, minor: dYMinor,
        padding: { left: 0, right: 39.3, top: 10, bottom: 0 }, xAxisH: 24, yAxisW: 45,
      })),
    ];
    return () => charts.forEach((c) => c.destroy());
  }, []);

  const abs = (left: number, top: number): React.CSSProperties => ({ position: 'absolute', left, top });

  return (
    <div style={{ position: 'absolute', left: 0, top: 0, width: 1050, height: 629, overflow: 'hidden', background: '#fff', fontFamily: FONT }}>
      <canvas ref={bandRef} width={1050} height={33} style={abs(0, 0)} />
      <canvas ref={geneRef} width={1050} height={96} style={abs(0, 33)} />
      <canvas ref={trackRef} width={1050} height={200} style={abs(0, 118)} />
      <canvas ref={bRef} width={370} height={299} style={abs(0, 330)} />
      <canvas ref={cRef} width={330} height={299} style={abs(370, 330)} />
      <canvas ref={dRef} width={350} height={299} style={abs(700, 330)} />

      <div style={textStyle(14, 11, 19)}>A</div>
      <div style={textStyle(14.5, 341, 19)}>B</div>
      <div style={textStyle(377.5, 341, 19)}>C</div>
      <div style={textStyle(715.5, 341, 19)}>D</div>

      <div style={textStyle(43.3, 466.7, 12, true)}>Transcription(Log10)</div>
      <div style={textStyle(216.7, 624, 12)}>Density of Genes(Log10)</div>
      <div style={textStyle(391, 471, 8.7, true)}>Gene Density</div>
      <div style={textStyle(543.3, 620, 8.7)}>Block Size</div>
      <div style={textStyle(730.5, 472, 8.7, true)}>Transcription</div>
      <div style={textStyle(878, 619.3, 8.7)}>Block Size</div>
    </div>
  );
}
